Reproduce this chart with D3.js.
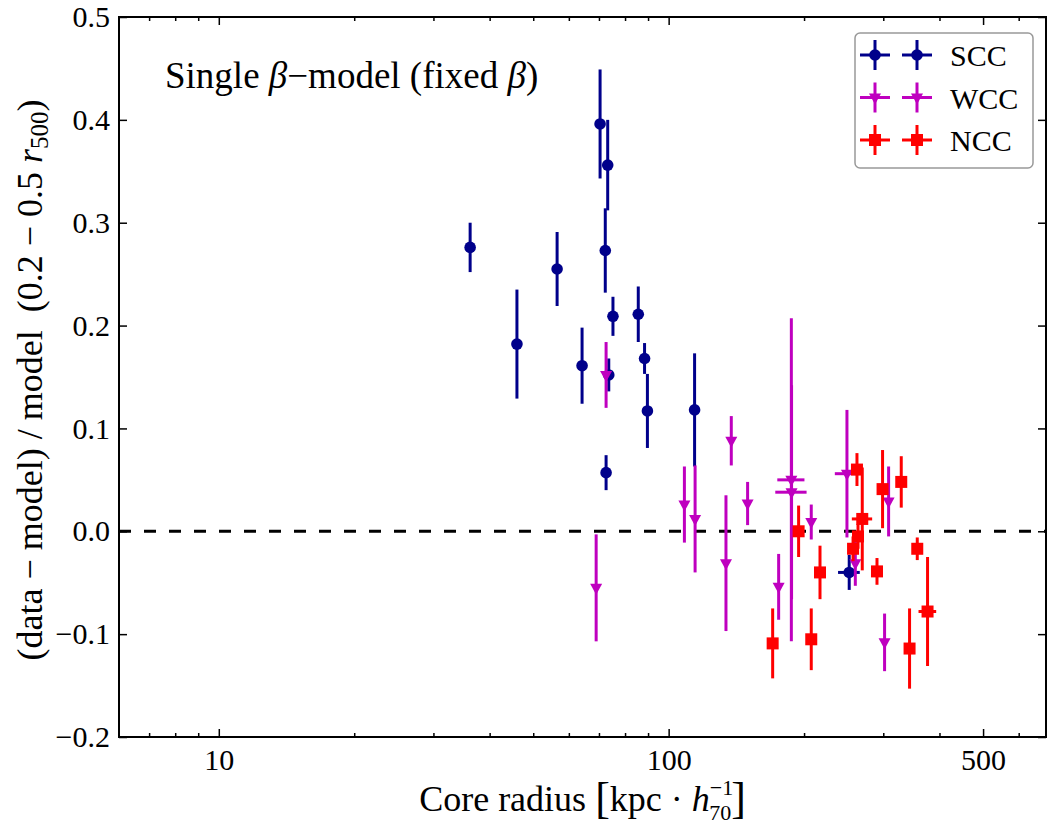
<!DOCTYPE html>
<html lang="en">
<head>
    <meta charset="UTF-8">
    <title></title>
    <script src="https://cdn.jsdelivr.net/npm/d3@7/dist/d3.min.js"></script>
    <style>
        body { margin: 0; background: #fff; }
        text { font-family: "Liberation Serif", "DejaVu Serif", serif; fill: #000; }
    </style>
</head>
<body>

<script>
    // core radius vs. residual, three cluster types

    var sccX    = [36.2, 46.0, 56.5, 64.2, 70.4, 73.2, 72.3, 75.2, 85.6, 88.4, 73.6, 89.7, 114.2, 72.6, 252.0];
    var sccY    = [0.276, 0.182, 0.255, 0.161, 0.396, 0.356, 0.273, 0.209, 0.211, 0.168, 0.152, 0.117, 0.118, 0.057, -0.040];
    var sccYErr = [0.024, 0.053, 0.036, 0.037, 0.053, 0.044, 0.041, 0.019, 0.027, 0.015, 0.016, 0.036, 0.055, 0.017, 0.017];
    var sccXErr = [0, 0, 0, 0, 0, 0, 0, 0, 0, 0, 0, 0, 0, 0, 14];

    var wccX    = [72.6, 69.0, 108.4, 114.5, 134.1, 137.8, 149.8, 175.6, 187.4, 187.6, 207.5, 249.1, 260.0, 308.3, 302.0];
    var wccY    = [0.152, -0.055, 0.026, 0.012, -0.031, 0.088, 0.027, -0.054, 0.050, 0.038, 0.009, 0.056, -0.031, 0.029, -0.108];
    var wccYErr = [0.032, 0.052, 0.037, 0.052, 0.066, 0.024, 0.021, 0.032, 0.157, 0.104, 0.017, 0.062, 0.022, 0.034, 0.028];
    var wccXErr = [0, 0, 0, 0, 0, 0, 0, 0, 13, 15, 0, 15, 0, 0, 0];

    var nccX    = [170.3, 207.5, 194.5, 217.0, 262.2, 269.4, 263.6, 257.0, 290.5, 298.9, 328.9, 357.0, 343.2, 376.3];
    var nccY    = [-0.109, -0.105, 0.000, -0.040, 0.060, 0.012, -0.005, -0.017, -0.039, 0.041, 0.048, -0.017, -0.114, -0.078];
    var nccYErr = [0.034, 0.030, 0.025, 0.026, 0.016, 0.050, 0.012, 0.012, 0.013, 0.038, 0.025, 0.011, 0.039, 0.053];
    var nccXErr = [0, 0, 0, 0, 0, 14, 0, 0, 0, 0, 0, 0, 0, 17];

    var xMajor = [10, 100, 500];
    var xMinor = [7, 8, 9, 20, 30, 40, 50, 60, 70, 80, 90, 200, 300, 400, 600];
    var yTicks = [-0.2, -0.1, 0.0, 0.1, 0.2, 0.3, 0.4, 0.5];

    var width = 1053,
            height = 831;
    // plot box (top is a window global, so prefix these)
    var pLeft = 119, pRight = 1046, pTop = 17, pBottom = 737;

    var svg = d3.select("body").append("svg")
            .attr("width", width)
            .attr("height", height);

    svg.append("rect").attr("width", width).attr("height", height).attr("fill", "#fff");

    var x = d3.scaleLog().domain([6, 690]).range([pLeft, pRight]);
    var y = d3.scaleLinear().domain([-0.2, 0.5]).range([pBottom, pTop]);

    function makeSeries(xs, ys, yerr, xerr) {
        return xs.map(function (d, i) {
            return {x: d, y: ys[i], ye: yerr[i], xe: xerr[i]};
        });
    }

    var series = [
        {name: "SCC", color: "#00008b", shape: "circle", data: makeSeries(sccX, sccY, sccYErr, sccXErr)},
        {name: "WCC", color: "#bf00bf", shape: "tri", data: makeSeries(wccX, wccY, wccYErr, wccXErr)},
        {name: "NCC", color: "#ff0000", shape: "square", data: makeSeries(nccX, nccY, nccYErr, nccXErr)}
    ];

    // zero line
    svg.append("line")
            .attr("x1", pLeft).attr("x2", pRight)
            .attr("y1", y(0)).attr("y2", y(0))
            .attr("stroke", "#000")
            .attr("stroke-width", 3)
            .attr("stroke-dasharray", "12,13");

    function drawMarker(g, shape, color, cx, cy) {
        if (shape == "circle") {
            g.append("circle").attr("cx", cx).attr("cy", cy).attr("r", 5.8).attr("fill", color);
        } else if (shape == "square") {
            g.append("rect").attr("x", cx - 6).attr("y", cy - 6)
                    .attr("width", 12).attr("height", 12).attr("fill", color);
        } else {
            g.append("path")
                    .attr("d", "M" + (cx - 6) + "," + (cy - 4) + "L" + (cx + 6) + "," + (cy - 4) + "L" + cx + "," + (cy + 7) + "Z")
                    .attr("fill", color);
        }
    }

    var plot = svg.append("g");

    series.forEach(function (s) {
        var g = plot.append("g");
        g.selectAll("line.ye")
                .data(s.data)
                .enter()
                .append("line")
                .attr("x1", function (d) { return x(d.x); })
                .attr("x2", function (d) { return x(d.x); })
                .attr("y1", function (d) { return y(d.y + d.ye); })
                .attr("y2", function (d) { return y(d.y - d.ye); })
                .attr("stroke", s.color)
                .attr("stroke-width", 3);
        g.selectAll("line.xe")
                .data(s.data.filter(function (d) { return d.xe > 0; }))
                .enter()
                .append("line")
                .attr("x1", function (d) { return x(d.x - d.xe); })
                .attr("x2", function (d) { return x(d.x + d.xe); })
                .attr("y1", function (d) { return y(d.y); })
                .attr("y2", function (d) { return y(d.y); })
                .attr("stroke", s.color)
                .attr("stroke-width", 3);
        s.data.forEach(function (d) {
            drawMarker(g, s.shape, s.color, x(d.x), y(d.y));
        });
    });

    // axes, ticks inside
    var fmt = d3.format(".1f");

    svg.append("g")
            .attr("transform", "translate(0," + pBottom + ")")
            .call(d3.axisBottom(x).tickValues(xMajor).tickFormat(d3.format("d")).tickSize(-8).tickPadding(12));
    svg.append("g")
            .attr("transform", "translate(0," + pBottom + ")")
            .call(d3.axisBottom(x).tickValues(xMinor).tickFormat("").tickSize(-4));
    svg.append("g")
            .attr("transform", "translate(0," + pTop + ")")
            .call(d3.axisTop(x).tickValues(xMajor).tickFormat("").tickSize(-8));
    svg.append("g")
            .attr("transform", "translate(0," + pTop + ")")
            .call(d3.axisTop(x).tickValues(xMinor).tickFormat("").tickSize(-4));

    svg.append("g")
            .attr("transform", "translate(" + pLeft + ",0)")
            .call(d3.axisLeft(y).tickValues(yTicks).tickFormat(fmt).tickSize(-8).tickPadding(9));
    svg.append("g")
            .attr("transform", "translate(" + pRight + ",0)")
            .call(d3.axisRight(y).tickValues(yTicks).tickFormat("").tickSize(-8));

    svg.selectAll(".domain").remove();
    svg.selectAll(".tick line").attr("stroke", "#000").attr("stroke-width", 1.5);
    svg.selectAll(".tick text")
            .attr("font-family", "Liberation Serif")
            .style("font-size", "30px");

    // frame
    svg.append("rect")
            .attr("x", pLeft).attr("y", pTop)
            .attr("width", pRight - pLeft).attr("height", pBottom - pTop)
            .attr("fill", "none")
            .attr("stroke", "#000")
            .attr("stroke-width", 2);

    // labels
    var title = svg.append("text")
            .attr("x", 165).attr("y", 88)
            .style("font-size", "37px");
    title.append("tspan").text("Single ");
    title.append("tspan").style("font-style", "italic").text("β");
    title.append("tspan").text("−model (fixed ");
    title.append("tspan").style("font-style", "italic").text("β");
    title.append("tspan").text(")");

    var xl = svg.append("text")
            .attr("x", (pLeft + pRight) / 2).attr("y", 811)
            .attr("text-anchor", "middle")
            .style("font-size", "36px");
    xl.append("tspan").text("Core radius ");
    xl.append("tspan").style("font-size", "44px").attr("dy", 2).text("[");
    xl.append("tspan").attr("dy", -2).text("kpc · ");
    xl.append("tspan").style("font-style", "italic").text("h");
    xl.append("tspan").style("font-size", "22px").attr("dy", -16).text("−1");
    xl.append("tspan").style("font-size", "22px").attr("dx", -24).attr("dy", 25).text("70");
    xl.append("tspan").style("font-size", "44px").attr("dy", -7).text("]");

    var yl = svg.append("text")
            .attr("transform", "translate(42," + ((pTop + pBottom) / 2 + 3) + ") rotate(-90)")
            .attr("text-anchor", "middle")
            .style("font-size", "36px");
    yl.append("tspan").text("(data − model) / model\u00a0\u00a0(0.2 − 0.5 ");
    yl.append("tspan").style("font-style", "italic").text("r");
    yl.append("tspan").style("font-size", "25px").attr("dy", 6).text("500");
    yl.append("tspan").attr("dy", -6).text(")");

    // legend
    var lg = svg.append("g");
    lg.append("rect")
            .attr("x", 855).attr("y", 33)
            .attr("width", 178).attr("height", 135)
            .attr("rx", 5)
            .attr("fill", "#fff")
            .attr("stroke", "#999")
            .attr("stroke-width", 1.5);

    series.forEach(function (s, i) {
        var cy = 55 + i * 42.5;
        [875, 917].forEach(function (cx) {
            lg.append("line").attr("x1", cx - 15).attr("x2", cx + 15).attr("y1", cy).attr("y2", cy)
                    .attr("stroke", s.color).attr("stroke-width", 3);
            lg.append("line").attr("x1", cx).attr("x2", cx).attr("y1", cy - 15).attr("y2", cy + 15)
                    .attr("stroke", s.color).attr("stroke-width", 3);
            drawMarker(lg, s.shape, s.color, cx, cy);
        });
        lg.append("text")
                .attr("x", 950).attr("y", cy + 11)
                .style("font-size", "30px")
                .text(s.name);
    });

</script>

</body>
</html>
